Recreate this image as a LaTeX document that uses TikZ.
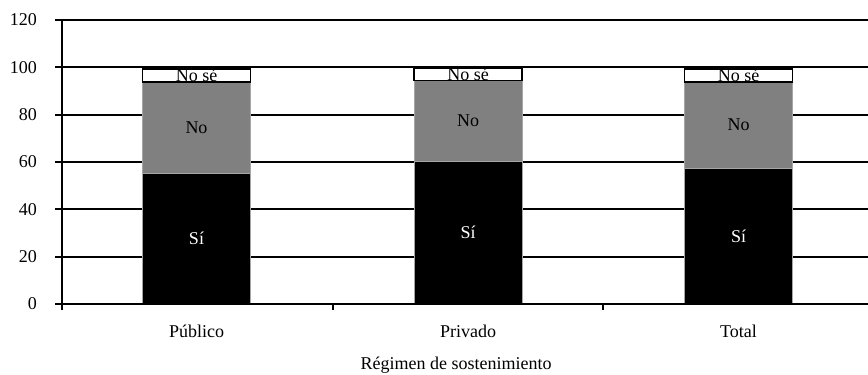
\documentclass[tikz,border=0pt]{standalone}
\usepackage{fontspec}
\setmainfont{Liberation Serif}
\begin{document}
\begin{tikzpicture}[x=1bp,y=1bp,
  lbl/.style={font=\fontsize{18bp}{21bp}\selectfont, inner sep=0pt},
  grid/.style={line width=1.8bp, black},
  sibar/.style={fill=black, draw=black!35, line width=0.6bp},
  nobar/.style={fill=black!50, draw=black!35, line width=0.6bp},
  nsbar/.style={fill=white, draw=black, line width=1.5bp}]
\useasboundingbox (0,0) rectangle (868,374);
% gridlines and y labels
\foreach \v in {0,20,...,120}{
  \draw[grid] (55,{70+2.3667*\v}) -- (868,{70+2.3667*\v});
  \node[lbl, anchor=east] (y\v) at (37,{70+2.3667*\v}) {\v};
}
% bars: center, si, no, total
\foreach \c/\s/\n/\t/\nm in {196.5/55.2/93.9/99.3/pub, 468/60.4/94.4/99.6/pri, 738.5/57.5/93.8/99.3/tot}{
  \fill[sibar] ({\c-54},70) rectangle ({\c+54},{70+2.3667*\s});
  \fill[nobar] ({\c-54},{70+2.3667*\s}) rectangle ({\c+54},{70+2.3667*\n});
  \filldraw[nsbar] ({\c-54},{70+2.3667*\n}) rectangle ({\c+54},{70+2.3667*\t});
  \node[lbl, text=white] (si\nm) at (\c,{70+2.3667*\s/2}) {Sí};
  \node[lbl] (no\nm) at (\c,{70+2.3667*(\s+\n)/2}) {No};
  \node[lbl, anchor=base] (ns\nm) at (\c,{70+2.3667*\n+0.5}) {No sé};
}
% axes
\draw[grid] (62,64) -- (62,354);
\draw[grid] (55,70) -- (868,70);
\draw[grid] (333,70) -- (333,64);
\draw[grid] (603,70) -- (603,64);
% category labels
\node[lbl] (cpub) at (196.5,43) {Público};
\node[lbl] (cpri) at (468,43) {Privado};
\node[lbl] (ctot) at (738.5,43) {Total};
\node[lbl] (xt) at (456,9) {Régimen de sostenimiento};
\end{tikzpicture}
\end{document}
